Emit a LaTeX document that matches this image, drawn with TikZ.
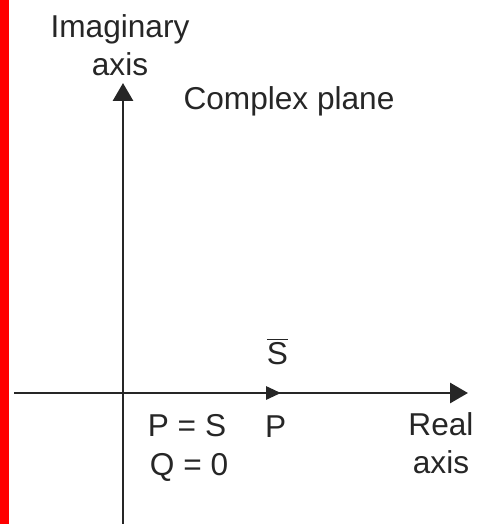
\documentclass[tikz,border=0pt]{standalone}
\usepackage{fontspec}
\setmainfont{Liberation Sans}
\usepackage{tikz}
\usetikzlibrary{arrows.meta, positioning}

\begin{document}
\begin{tikzpicture}[
  x=0.02cm, y=-0.02cm,
  axis/.style={line width=1.7pt, draw=black!85, -{Triangle[length=0.36cm, width=0.4cm]}},
  phasor/.style={line width=1.7pt, draw=black!85, -{Triangle[length=0.3cm, width=0.26cm]}},
  lbl/.style={font=\fontsize{18}{21.5}\selectfont, text=black!85, inner sep=0pt, align=center}
]
\useasboundingbox (0,0) rectangle (483,524);
\fill[red] (0,0) rectangle (9,524);

% Axes
\coordinate (origin) at (123,393);
\coordinate (ytop) at (123,83);
\coordinate (ybot) at (123,524);
\coordinate (xleft) at (14,393);
\coordinate (xright) at (468,393);
\coordinate (tip) at (281,393);

\draw [axis] (ybot) -- (ytop);
\draw [axis] (xleft) -- (xright);
\draw [phasor] (origin) -- (tip);

% Labels
\node (imag) [lbl] at (120,45) {Imaginary\\axis};
\node (plane) [lbl] at (289,101) {Complex plane};
\node (sbar) [lbl, above=16pt of tip, xshift=-2pt] {$\overline{\mbox{S}}$};
\node (p) [lbl, below=13pt of tip, xshift=-3pt] {P};
\node (ps) [lbl] at (187,426) {P = S};
\node (q) [lbl] at (189,467) {Q = 0};
\node (real) [lbl] at (441,443) {Real\\axis};
\end{tikzpicture}
\end{document}
